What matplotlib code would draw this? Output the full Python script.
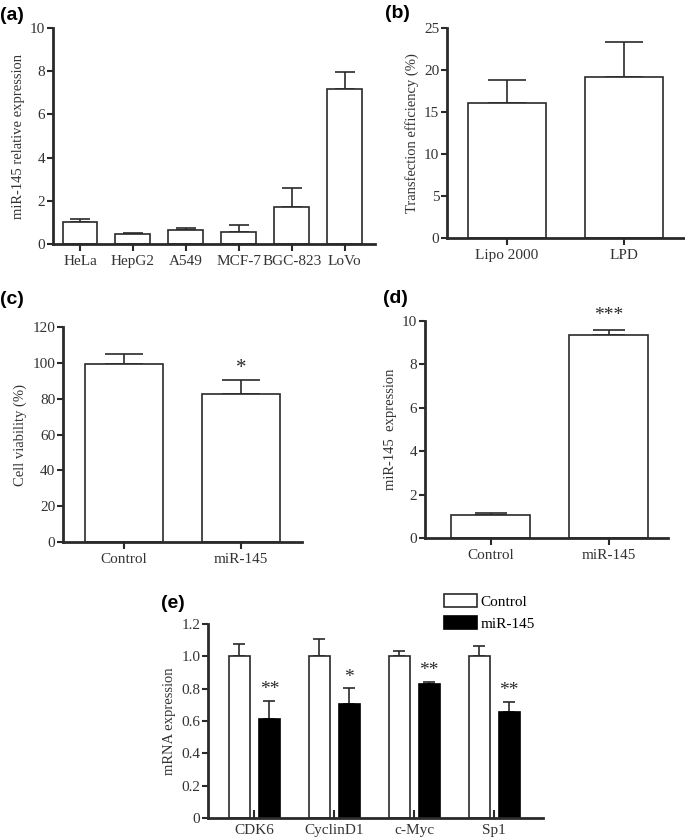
import matplotlib.pyplot as plt
import numpy as np

# (a) miR-145 in cell lines
cells = ['HeLa', 'HepG2', 'A549', 'MCF-7', 'BGC-823', 'LoVo']
cells_val = [1.0, 0.45, 0.66, 0.56, 1.73, 7.19]
cells_err = [0.16, 0.07, 0.10, 0.34, 0.88, 0.76]

# (b) transfection efficiency
reagents = ['Lipo 2000', 'LPD']
transf_val = [16.05, 19.2]
transf_err = [2.75, 4.1]

# (c) cell viability
groups = ['Control', 'miR-145']
viab_val = [99.5, 82.6]
viab_err = [5.2, 7.6]

# (d) miR-145 expression
expr_val = [1.04, 9.36]
expr_err = [0.11, 0.21]

# (e) mRNA expression
genes = ['CDK6', 'CyclinD1', 'c-Myc', 'Sp1']
ctrl_val = [1.0, 1.0, 1.0, 1.0]
ctrl_err = [0.078, 0.105, 0.033, 0.064]
mir_val = [0.611, 0.706, 0.828, 0.655]
mir_err = [0.114, 0.097, 0.014, 0.063]
mir_sig = ['**', '*', '**', '**']

plt.rcParams['font.family'] = ['Liberation Serif', 'DejaVu Serif']
ink = '#2a2a2a'
W, H = 685, 840

fig = plt.figure(figsize=(6.85, 8.4), dpi=100)


def make_ax(l, r, t, b):
    # pixel box -> figure fraction
    return fig.add_axes([l / W, 1 - b / H, (r - l) / W, (b - t) / H])


def style(ax):
    for s in ['top', 'right']:
        ax.spines[s].set_visible(False)
    for s in ['left', 'bottom']:
        ax.spines[s].set_linewidth(2.0)
        ax.spines[s].set_color(ink)
    ax.tick_params(axis='both', colors=ink, labelcolor='#333333', width=1.5,
                   length=4, labelsize=11, pad=1.5)
    ax.tick_params(axis='x', length=5, pad=3)


def bars(ax, x, vals, errs, width, cap, color='white'):
    ax.bar(x, vals, width=width, color=color, edgecolor=ink, linewidth=1.2, zorder=2)
    ax.errorbar(x, vals, yerr=[np.zeros(len(vals)), errs], fmt='none', ecolor=ink,
                elinewidth=1.2, capsize=cap, capthick=1.2, zorder=1)


def panel_label(txt, x, y):
    fig.text(x / W, 1 - y / H, txt, fontsize=14, fontweight='bold',
             family='Liberation Sans', va='center', ha='left')


# (a)
ax = make_ax(53, 375, 28, 244)
x = np.arange(len(cells))
bars(ax, x, cells_val, cells_err, 0.66, 7)
ax.set_xlim(-0.51, 5.57)
ax.set_ylim(0, 10)
ax.set_yticks([0, 2, 4, 6, 8, 10])
ax.set_xticks(x)
ax.set_xticklabels(cells)
ax.set_ylabel('miR-145 relative expression', fontsize=10.5, color='#333333')
style(ax)
panel_label('(a)', 0, 16)

# (b)
ax = make_ax(447, 685, 28, 238)
x = np.arange(len(reagents))
bars(ax, x, transf_val, transf_err, 0.667, 13.5)
ax.set_xlim(-0.513, 1.52)
ax.set_ylim(0, 25)
ax.set_yticks([0, 5, 10, 15, 20, 25])
ax.set_xticks(x)
ax.set_xticklabels(reagents)
ax.set_ylabel('Transfection efficiency (%)', fontsize=10.5, color='#333333')
style(ax)
panel_label('(b)', 385, 13)

# (c)
ax = make_ax(63, 302, 327, 542)
x = np.arange(len(groups))
bars(ax, x, viab_val, viab_err, 0.667, 14)
ax.text(1, viab_val[1] + viab_err[1] + 1.5, '*', ha='center', va='bottom', fontsize=15, color=ink)
ax.set_xlim(-0.52, 1.52)
ax.set_ylim(0, 120)
ax.set_yticks([0, 20, 40, 60, 80, 100, 120])
ax.set_xticks(x)
ax.set_xticklabels(groups)
ax.set_ylabel('Cell viability (%)', fontsize=10.5, color='#333333')
style(ax)
panel_label('(c)', 0, 300)

# (d)
ax = make_ax(425, 668, 321, 538)
bars(ax, x, expr_val, expr_err, 0.67, 11.5)
ax.text(1, expr_val[1] + expr_err[1] + 0.3, '***', ha='center', va='bottom', fontsize=14, color=ink)
ax.set_xlim(-0.555, 1.504)
ax.set_ylim(0, 10)
ax.set_yticks([0, 2, 4, 6, 8, 10])
ax.set_xticks(x)
ax.set_xticklabels(groups)
ax.set_ylabel('miR-145  expression', fontsize=10.5, color='#333333')
style(ax)
panel_label('(d)', 383, 298)

# (e)
ax = make_ax(208, 543, 624, 818)
x = np.arange(len(genes))
off = 0.1875
ax.bar(x - off, ctrl_val, width=0.26, color='white', edgecolor=ink, linewidth=1.2,
       zorder=2, label='Control')
ax.bar(x + off, mir_val, width=0.26, color='black', edgecolor='black', linewidth=1.2,
       zorder=2, label='miR-145')
ax.errorbar(x - off, ctrl_val, yerr=[np.zeros(4), ctrl_err], fmt='none', ecolor=ink,
            elinewidth=1.2, capsize=4.5, capthick=1.2, zorder=1)
ax.errorbar(x + off, mir_val, yerr=[np.zeros(4), mir_err], fmt='none', ecolor=ink,
            elinewidth=1.2, capsize=4.5, capthick=1.2, zorder=1)
for i in range(len(genes)):
    ax.text(x[i] + off, mir_val[i] + mir_err[i] + 0.015, mir_sig[i], ha='center',
            va='bottom', fontsize=14, color=ink)
ax.set_xlim(-0.58, 3.61)
ax.set_ylim(0, 1.2)
ax.set_yticks([0, 0.2, 0.4, 0.6, 0.8, 1.0, 1.2])
ax.set_yticklabels(['0', '0.2', '0.4', '0.6', '0.8', '1.0', '1.2'])
ax.set_xticks(x)
ax.set_xticklabels(genes)
ax.set_ylabel('mRNA expression', fontsize=10.5, color='#333333')
style(ax)
ax.tick_params(axis='x', direction='in', length=6, pad=4)
ax.legend(loc='upper left', bbox_to_anchor=(436 / W, 1 - 586 / H),
          bbox_transform=fig.transFigure, frameon=False, fontsize=11,
          handlelength=2.2, handleheight=1.0, handletextpad=0.2, labelspacing=0.45,
          borderpad=0)
panel_label('(e)', 161, 603)

fig.savefig('out.png', dpi=100)
